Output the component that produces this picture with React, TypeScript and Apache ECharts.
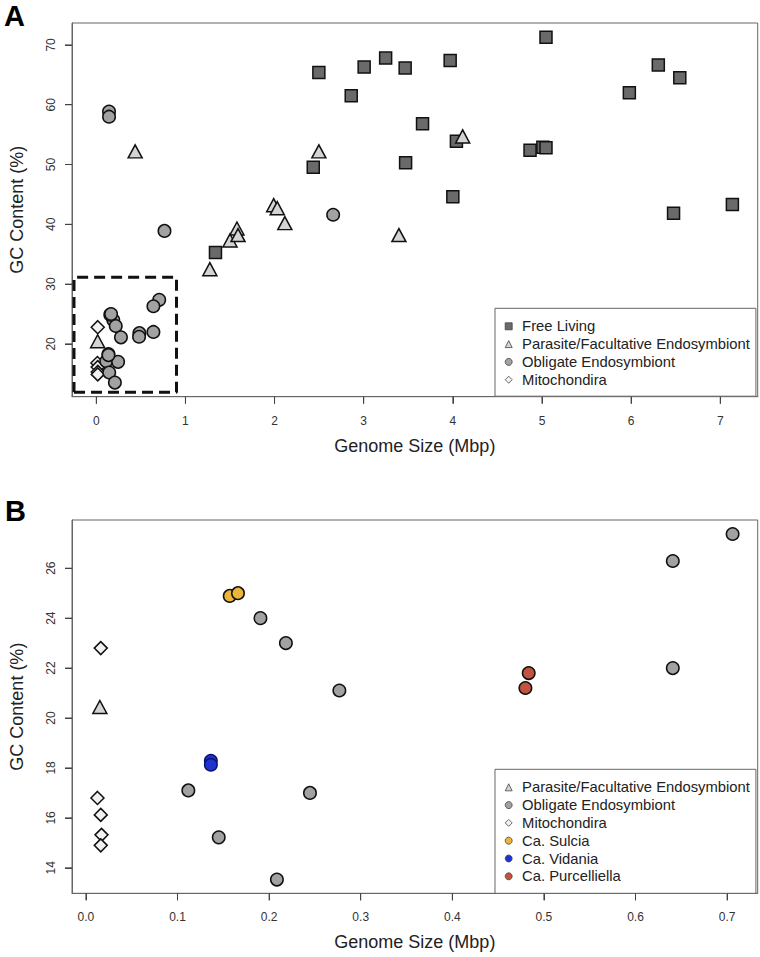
import React, { useEffect, useRef } from "react";
import * as echarts from "echarts";

// ---------- Data (Genome size in Mbp, GC content in %) ----------
const freeLiving: [number, number][] = [
  [1.337, 35.3], [2.434, 49.55], [2.497, 65.4], [2.86, 61.5], [3.005, 66.3],
  [3.246, 67.8], [3.465, 66.15], [3.47, 50.3], [3.66, 56.8], [3.97, 67.4],
  [4.0, 44.6], [4.04, 53.9], [4.866, 52.4], [5.01, 52.9], [5.045, 52.8],
  [5.045, 71.3], [5.98, 62.0], [6.305, 66.65], [6.476, 41.85], [6.546, 64.5],
  [7.136, 43.3],
];
const parasiteLarge: [number, number][] = [
  [0.436, 52.2], [1.274, 32.5], [1.5, 37.3], [1.578, 39.3], [1.59, 38.2],
  [1.99, 43.2], [2.03, 42.7], [2.115, 40.2], [2.497, 52.2], [3.395, 38.2],
  [4.11, 54.7],
];
const parasiteSmall: [number, number][] = [[0.0152, 20.44]];
const obligateLarge: [number, number][] = [
  [0.143, 58.85], [0.143, 58.0], [0.765, 38.9], [2.657, 41.6],
];
const obligateSmall: [number, number][] = [
  [0.1905, 24.0], [0.2183, 23.0], [0.2767, 21.1], [0.706, 27.37], [0.6407, 26.29],
  [0.6407, 22.0], [0.1118, 17.1], [0.2446, 17.0], [0.145, 15.22], [0.2085, 13.53],
];
const sulcia: [number, number][] = [[0.157, 24.89], [0.166, 25.0]];
const vidania: [number, number][] = [[0.1364, 18.29], [0.1364, 18.13]];
const purcelliella: [number, number][] = [[0.4834, 21.8], [0.4798, 21.2]];
const mitochondria: [number, number][] = [
  [0.0162, 22.8], [0.0126, 16.8], [0.0162, 16.12], [0.017, 15.32], [0.0162, 14.9],
];
// dashed region of panel A that is enlarged in panel B (corners)
const zoomBox: [number, number][] = [[-0.25, 11.9], [0.9, 31.15]];

const xTicksA = [0, 1, 2, 3, 4, 5, 6, 7];
const yTicksA = [20, 30, 40, 50, 60, 70];
const xTicksB = [0, 0.1, 0.2, 0.3, 0.4, 0.5, 0.6, 0.7];
const yTicksB = [14, 16, 18, 20, 22, 24, 26];

const FONT = "Liberation Sans, Arial, Helvetica, sans-serif";

const STYLES: Record<string, { symbol: string; size: number | number[]; color: string; border: string }> = {
  "Free Living": { symbol: "rect", size: 12, color: "#6a6a6a", border: "#111" },
  "Parasite/Facultative Endosymbiont": { symbol: "triangle", size: [14, 13], color: "#d4d4d4", border: "#111" },
  "Obligate Endosymbiont": { symbol: "circle", size: 12.5, color: "#a2a2a2", border: "#111" },
  Mitochondira: { symbol: "diamond", size: 13, color: "#f2f2f2", border: "#111" },
  "Ca. Sulcia": { symbol: "circle", size: 12.5, color: "#ebb53a", border: "#111" },
  "Ca. Vidania": { symbol: "circle", size: 12.5, color: "#1f32d0", border: "#0b1670" },
  "Ca. Purcelliella": { symbol: "circle", size: 12.5, color: "#c2533e", border: "#111" },
};

function scatter(name: string, data: [number, number][], idx: number) {
  const s = STYLES[name];
  return {
    type: "scatter",
    name,
    xAxisIndex: idx,
    yAxisIndex: idx,
    data,
    symbol: s.symbol,
    symbolSize: s.size,
    itemStyle: { color: s.color, borderColor: s.border, borderWidth: 1.5, opacity: 1 },
    emphasis: { disabled: true },
  };
}

function legendItem(name: string) {
  const s = STYLES[name];
  return {
    name,
    icon: s.symbol,
    itemStyle: { color: s.color, borderColor: "#444", borderWidth: 0.8 },
  };
}

// tick marks drawn through the axes' own scales (custom series, not clipped)
function tickSeries(idx: number, dir: "x" | "y", ticks: number[], edge: number) {
  return {
    type: "custom",
    name: `${dir}-ticks-${idx}`,
    xAxisIndex: idx,
    yAxisIndex: idx,
    clip: false,
    silent: true,
    z: 5,
    data: ticks.map((t) => (dir === "x" ? [t, edge] : [edge, t])),
    renderItem: (_p: any, api: any) => {
      const c = api.coord([api.value(0), api.value(1)]);
      const shape =
        dir === "x"
          ? { x1: c[0], y1: c[1], x2: c[0], y2: c[1] + 7 }
          : { x1: c[0], y1: c[1], x2: c[0] - 7, y2: c[1] };
      return { type: "line", shape, style: { stroke: "#444", lineWidth: 1 } };
    },
  };
}

function xAxis(idx: number, min: number, max: number, ticks: number[], digits: number) {
  return {
    type: "value",
    gridIndex: idx,
    min,
    max,
    name: "Genome Size (Mbp)",
    nameLocation: "middle",
    nameGap: 40,
    nameTextStyle: { fontSize: 18, color: "#222", fontFamily: FONT },
    axisLine: { show: true, onZero: false, lineStyle: { color: "#666", width: 1 } },
    axisTick: { show: true, length: 7, customValues: ticks, lineStyle: { color: "#444", width: 1 } },
    axisLabel: {
      customValues: ticks,
      formatter: (v: number) => v.toFixed(digits),
      fontSize: 12,
      color: "#333",
      margin: 18,
      fontFamily: FONT,
    },
    splitLine: { show: false },
  };
}

function yAxis(idx: number, min: number, max: number, ticks: number[]) {
  return {
    type: "value",
    gridIndex: idx,
    min,
    max,
    name: "GC Content (%)",
    nameLocation: "middle",
    nameRotate: 90,
    nameGap: 46,
    nameTextStyle: { fontSize: 18, color: "#222", fontFamily: FONT },
    axisLine: { show: true, onZero: false, lineStyle: { color: "#666", width: 1 } },
    axisTick: { show: true, length: 7, customValues: ticks, lineStyle: { color: "#444", width: 1 } },
    axisLabel: {
      customValues: ticks,
      rotate: 90,
      fontSize: 12,
      color: "#333",
      margin: 15,
      fontFamily: FONT,
    },
    splitLine: { show: false },
  };
}

export default function App() {
  const ref = useRef<HTMLDivElement>(null);
  useEffect(() => {
    document.body.style.margin = "0";
    const chart = echarts.init(ref.current!, null, { renderer: "svg" });
    const obligateA = [...obligateLarge, ...obligateSmall, ...sulcia, ...vidania, ...purcelliella];
    const parasiteA = [...parasiteLarge, ...parasiteSmall];
    const [b0, b1] = zoomBox;
    const boxPath: [number, number][] = [
      [b0[0], b0[1]], [b1[0], b0[1]], [b1[0], b1[1]], [b0[0], b1[1]], [b0[0], b0[1]],
    ];
    const xRangeA: [number, number] = [-0.2725, 7.42];
    const yRangeA: [number, number] = [11.17, 73.67];
    const xRangeB: [number, number] = [-0.0152, 0.7334];
    const yRangeB: [number, number] = [12.98, 27.93];
    const legendBase = {
      orient: "vertical",
      itemWidth: 7,
      itemHeight: 7,
      itemGap: 2.8,
      borderColor: "#666",
      borderWidth: 1,
      backgroundColor: "#fff",
      selectedMode: false,
      textStyle: { fontSize: 14.8, color: "#222", fontFamily: FONT, padding: [0, 0, 0, 4.9] },
    };
    chart.setOption({
      animation: false,
      textStyle: { fontFamily: FONT },
      grid: [
        { left: 66, top: 23, width: 691.7, height: 373.7, show: true, borderColor: "#666", borderWidth: 1, backgroundColor: "transparent" },
        { left: 66, top: 520, width: 691.7, height: 373.3, show: true, borderColor: "#666", borderWidth: 1, backgroundColor: "transparent" },
      ],
      xAxis: [
        xAxis(0, xRangeA[0], xRangeA[1], xTicksA, 0),
        xAxis(1, xRangeB[0], xRangeB[1], xTicksB, 1),
      ],
      yAxis: [
        yAxis(0, yRangeA[0], yRangeA[1], yTicksA),
        yAxis(1, yRangeB[0], yRangeB[1], yTicksB),
      ],
      legend: [
        {
          ...legendBase,
          left: 495,
          top: 308.3,
          padding: [10.5, 6, 9, 9.8],
          data: ["Free Living", "Parasite/Facultative Endosymbiont", "Obligate Endosymbiont", "Mitochondira"].map(legendItem),
        },
        {
          ...legendBase,
          left: 495,
          top: 769.3,
          padding: [10.5, 6, 9.5, 9.8],
          data: [
            "Parasite/Facultative Endosymbiont", "Obligate Endosymbiont", "Mitochondira",
            "Ca. Sulcia", "Ca. Vidania", "Ca. Purcelliella",
          ].map(legendItem),
        },
      ],
      series: [
        scatter("Mitochondira", mitochondria, 0),
        scatter("Free Living", freeLiving, 0),
        scatter("Parasite/Facultative Endosymbiont", parasiteA, 0),
        scatter("Obligate Endosymbiont", obligateA, 0),
        {
          type: "line",
          name: "zoom region",
          xAxisIndex: 0,
          yAxisIndex: 0,
          data: boxPath,
          symbol: "none",
          silent: true,
          lineStyle: { color: "#111", width: 3, type: [11, 6] },
          z: 1,
        },
        scatter("Parasite/Facultative Endosymbiont", parasiteSmall, 1),
        scatter("Obligate Endosymbiont", obligateSmall, 1),
        scatter("Mitochondira", mitochondria, 1),
        scatter("Ca. Sulcia", sulcia, 1),
        scatter("Ca. Vidania", vidania, 1),
        scatter("Ca. Purcelliella", purcelliella, 1),
        tickSeries(0, "x", xTicksA, yRangeA[0]),
        tickSeries(0, "y", yTicksA, xRangeA[0]),
        tickSeries(1, "x", xTicksB, yRangeB[0]),
        tickSeries(1, "y", yTicksB, xRangeB[0]),
      ],
      graphic: [
        { type: "text", left: 4, top: 1, style: { text: "A", fontSize: 29, fontWeight: "bold", fill: "#000", fontFamily: FONT } },
        { type: "text", left: 5, top: 496, style: { text: "B", fontSize: 29, fontWeight: "bold", fill: "#000", fontFamily: FONT } },
      ],
    });
    return () => chart.dispose();
  }, []);
  return <div ref={ref} style={{ width: 760, height: 957 }} />;
}
